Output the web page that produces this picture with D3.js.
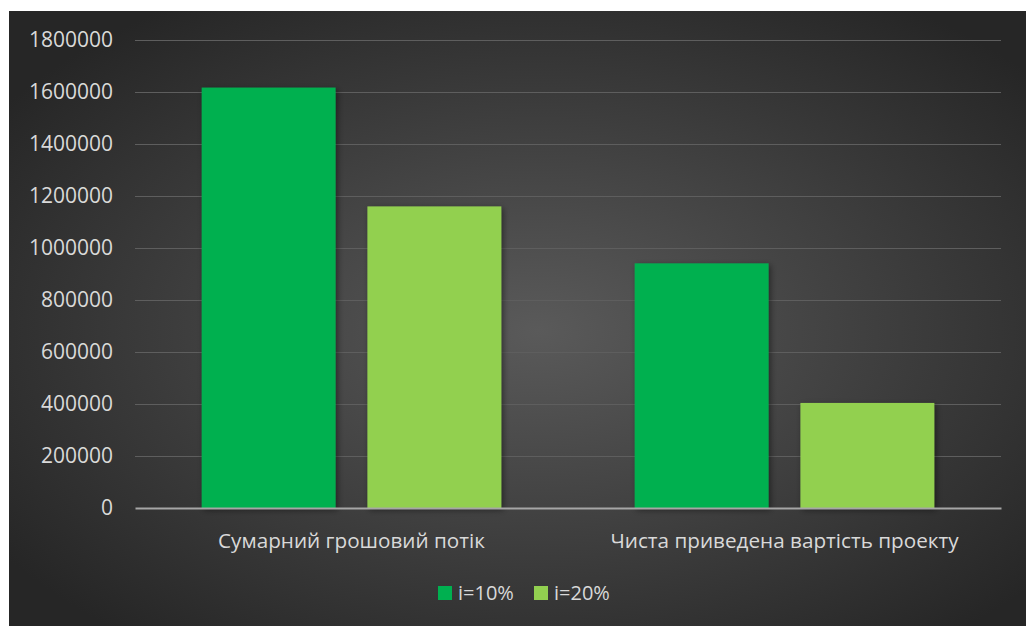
<!DOCTYPE html>
<html>
<head>
<meta charset="utf-8">
<script src="https://cdn.jsdelivr.net/npm/d3@7"></script>
<style>
  html, body { margin: 0; padding: 0; background: #ffffff; }
  svg { display: block; }
  text { font-family: "Open Sans", "Noto Sans", sans-serif; fill: #d9d9d9; }
</style>
</head>
<body>
<svg id="chart" width="1026" height="626"></svg>
<script>
// Categories, series and values
const categories = ["Сумарний грошовий потік", "Чиста приведена вартість проекту"];
const seriesNames = ["i=10%", "i=20%"];
const seriesColors = ["#00B050", "#92D050"];
const valuesRate10 = [1617000, 941000];
const valuesRate20 = [1160000, 404000];
const yTicks = [0, 200000, 400000, 600000, 800000, 1000000, 1200000, 1400000, 1600000, 1800000];

const seriesValues = [valuesRate10, valuesRate20];
const rows = categories.map((c, i) => ({
  category: c,
  values: seriesNames.map((s, j) => ({ series: s, value: seriesValues[j][i], color: seriesColors[j] }))
}));

const svg = d3.select("#chart");
const W = 1026, H = 626;

// Background panel with a soft radial glow
const defs = svg.append("defs");
const grad = defs.append("radialGradient")
  .attr("id", "bg").attr("cx", "52%").attr("cy", "52%").attr("r", "64%");
grad.append("stop").attr("offset", "0%").attr("stop-color", "#5a5a5a");
grad.append("stop").attr("offset", "100%").attr("stop-color", "#262626");

const shadow = defs.append("filter").attr("id", "barShadow")
  .attr("x", "-20%").attr("y", "-20%").attr("width", "140%").attr("height", "140%");
shadow.append("feDropShadow")
  .attr("dx", 2).attr("dy", 2).attr("stdDeviation", 3)
  .attr("flood-color", "#000").attr("flood-opacity", 0.45);

svg.append("rect")
  .attr("x", 9).attr("y", 11).attr("width", W - 9).attr("height", H - 11)
  .attr("fill", "url(#bg)");

// Plot geometry
const plot = { left: 135, right: 1001, top: 40, bottom: 508 };

const y = d3.scaleLinear().domain([0, 1800000]).range([plot.bottom, plot.top]);
const x0 = d3.scaleBand().domain(categories).range([plot.left, plot.right]).padding(0);
const groupPad = x0.bandwidth() * 0.154;
const x1 = d3.scaleBand().domain(seriesNames)
  .range([groupPad, x0.bandwidth() - groupPad]).paddingInner(0.192).paddingOuter(0);

// Gridlines
const grid = svg.append("g")
  .attr("transform", `translate(${plot.left},0)`)
  .call(d3.axisLeft(y).tickValues(yTicks.filter(t => t > 0)).tickSize(-(plot.right - plot.left)).tickFormat(""));
grid.select(".domain").remove();
grid.selectAll("line").attr("stroke", "#5e5e5e").attr("stroke-width", 1.2);

// Y axis labels
const yAxis = svg.append("g")
  .attr("transform", `translate(${plot.left},0)`)
  .call(d3.axisLeft(y).tickValues(yTicks).tickSize(0).tickPadding(22).tickFormat(d3.format("d")));
yAxis.select(".domain").remove();
yAxis.selectAll("text").style("font-size", "21px").attr("fill", "#d9d9d9");

// Bars
const groups = svg.append("g").selectAll("g")
  .data(rows).join("g")
  .attr("transform", d => `translate(${x0(d.category)},0)`);

groups.selectAll("rect")
  .data(d => d.values).join("rect")
  .attr("x", d => x1(d.series))
  .attr("width", x1.bandwidth())
  .attr("y", d => y(d.value))
  .attr("height", d => y(0) - y(d.value))
  .attr("fill", d => d.color)
  .attr("filter", "url(#barShadow)");

// Category axis
const xAxis = svg.append("g")
  .attr("transform", `translate(0,${plot.bottom})`)
  .call(d3.axisBottom(x0).tickSize(0).tickPadding(25));
xAxis.select(".domain").attr("stroke", "#a6a6a6").attr("stroke-width", 2);
xAxis.selectAll("text").style("font-size", "20.7px").attr("fill", "#d9d9d9");

// Legend
const legendItems = [
  { name: seriesNames[0], color: seriesColors[0], x: 438 },
  { name: seriesNames[1], color: seriesColors[1], x: 534 }
];
const legend = svg.append("g");
const li = legend.selectAll("g").data(legendItems).join("g")
  .attr("transform", d => `translate(${d.x},586)`);
li.append("rect").attr("width", 14).attr("height", 14).attr("fill", d => d.color);
li.append("text").attr("x", 20).attr("y", 14).style("font-size", "20px").text(d => d.name);
</script>
</body>
</html>
